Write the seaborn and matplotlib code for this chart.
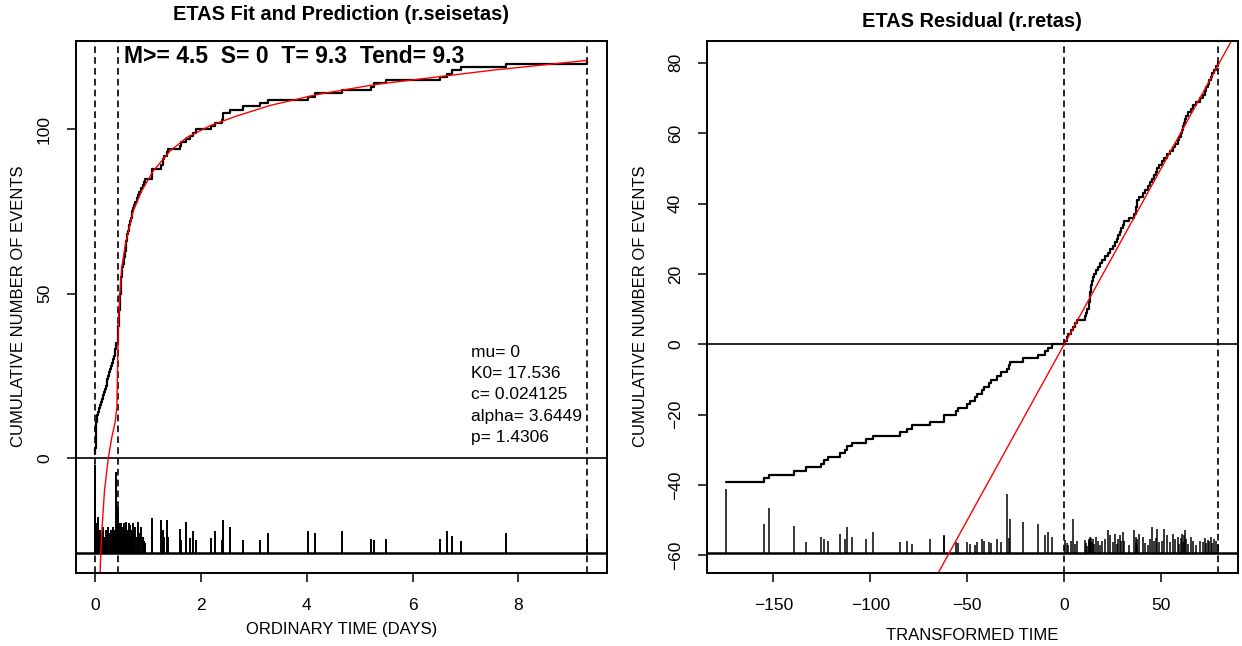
import numpy as np
import matplotlib
matplotlib.use("Agg")
import matplotlib.pyplot as plt
import seaborn as sns

# ---------------- left panel: ordinary time (days) ----------------
event_days = [
    0.000, 0.002, 0.004, 0.006, 0.008, 0.010, 0.012, 0.015, 0.018, 0.021, 0.024, 0.027, 0.030,
    0.05, 0.07, 0.09, 0.11, 0.13, 0.145, 0.16, 0.18, 0.20, 0.215, 0.23, 0.25, 0.27, 0.285,
    0.30, 0.32, 0.34, 0.355, 0.37, 0.38, 0.388,
    0.395, 0.425, 0.43, 0.433, 0.436, 0.439, 0.442, 0.445, 0.448, 0.452, 0.456, 0.46,
    0.464, 0.468, 0.472, 0.476, 0.48, 0.484, 0.488, 0.492, 0.496, 0.50, 0.505, 0.51,
    0.525, 0.535, 0.545, 0.555, 0.565, 0.575, 0.58, 0.59, 0.595, 0.60,
    0.615, 0.63, 0.645, 0.66, 0.675, 0.69, 0.70, 0.71,
    0.735, 0.76, 0.785, 0.81, 0.835, 0.86,
    0.90, 0.93, 0.95,
    1.07, 1.075, 1.08, 1.24, 1.285, 1.29, 1.295, 1.365, 1.375, 1.61, 1.63, 1.71,
    1.80, 1.84, 1.90, 2.19, 2.27, 2.39, 2.41, 2.415, 2.55, 2.79, 3.11, 3.27,
    4.02, 4.16, 4.66, 5.22, 5.27, 5.50, 6.52, 6.65, 6.74, 6.91, 7.77, 9.29,
]
spike_top_days = [
    -2.3, -10, -18, -22, -24, -20, -25, -23, -26, -24, -22, -25, -23,
    -18, -24, -22, -25, -23, -21, -25, -24, -22, -25, -23, -21, -25, -23,
    -22, -25, -21, -24, -22, -25, -23,
    -4.3, -15, -21, -24, -22, -20, -25, -23, -21, -24, -22, -25,
    -20, -23, -24, -21, -25, -22, -23, -20, -24, -22, -25, -21,
    -23, -20, -24, -22, -25, -19.5, -23, -21, -24, -22,
    -25, -20, -23, -20.5, -24, -22, -25, -20,
    -23, -21, -24, -19.5, -23, -21,
    -24, -25.4, -26,
    -18.3, -23, -25, -19, -25, -22, -24, -19, -24, -21.7, -25, -19.5,
    -24.5, -22.3, -25, -24.5, -22.3, -25, -19, -23, -21, -25, -25, -23,
    -22.3, -23, -22.3, -24.6, -25, -24.6, -24.6, -22.3, -23.9, -25.3, -23, -24.6,
]
model_days = [0.085, 0.10, 0.127, 0.176, 0.25, 0.315, 0.378, 0.41, 0.42, 0.43, 0.44,
              0.47, 0.50, 0.57, 0.60, 0.72, 0.88, 1.10, 1.42, 1.73, 2.17, 2.68,
              3.31, 4.19, 5.31, 6.43, 7.55, 9.30]
model_count = [-40, -31, -22, -10, 0.2, 6.3, 10.9, 15.4, 25.6, 33.7, 40.8,
               50.9, 57.5, 65, 67.1, 75.2, 81.3, 87.4, 93.5, 97.5, 101.1, 104.1,
               107.3, 110.6, 113.7, 115.9, 118.1, 121]
LEFT_BASE = -29.0
LEFT_VLINES = [0.0, 0.43, 9.3]
LEFT_XTICKS = [0, 2, 4, 6, 8]
LEFT_YTICKS = [0, 50, 100]
HEADER = "M>= 4.5  S= 0  T= 9.3  Tend= 9.3"
PARAM_LINES = ["mu= 0", "K0= 17.536", "c= 0.024125", "alpha= 3.6449", "p= 1.4306"]

# ---------------- right panel: transformed time ----------------
resid_tau = [
    -174.2, -154.6, -152.1, -139.3, -133.2, -125.3, -123.7, -121.8, -115.8, -113.2,
    -111.9, -109.4, -102.2, -98.8, -84.5, -80.8, -78.4, -69.1, -62.2, -61.8,
    -55.7, -54.8, -50.2, -48.5, -45.8, -45.0, -42.4, -41.2, -39.0, -37.6,
    -34.4, -32.6, -29.6, -28.2, -27.8, -21.3, -13.6, -9.8, -8.4, -6.4,
    0.5, 1.2, 2.2, 3.5, 4.8, 5.8, 6.5, 10.6, 11.3, 12.0,
    12.6, 12.9, 13.1, 13.3, 13.5, 13.7, 13.9, 14.2, 15.0, 15.6,
    16.2, 17.5, 18.5, 19.6, 21.0, 22.5, 23.6, 25.4, 26.3, 27.1,
    27.8, 28.6, 29.5, 30.3, 31.1, 33.5, 35.8, 36.9, 37.1, 37.3,
    37.5, 38.5, 40.6, 41.8, 43.1, 44.5, 45.5, 46.2, 47.1, 48.0,
    48.9, 50.3, 51.7, 53.1, 54.8, 56.2, 57.4, 58.6, 59.4, 60.1,
    60.7, 61.3, 61.9, 62.4, 62.9, 64.1, 65.3, 66.5, 68.2, 69.9,
    71.6, 72.5, 73.3, 74.1, 74.9, 75.6, 76.3, 77.2, 78.1, 79.2,
]
spike_top_tau = [
    -41.2, -51.1, -46.4, -51.5, -56.2, -54.8, -55.3, -55.8, -53.9, -55.3,
    -52.0, -54.8, -55.3, -53.4, -56.3, -55.8, -56.8, -55.3, -54.3, -54.5,
    -56.3, -56.6, -56.3, -56.8, -57.0, -56.3, -55.3, -55.8, -56.3, -56.6,
    -55.3, -56.3, -42.6, -55.0, -49.7, -50.6, -51.1, -54.3, -53.4, -54.8,
    -55.5, -56.5, -57.0, -56.0, -49.7, -56.8, -55.8, -55.5, -56.6, -57.2,
    -55.3, -56.0, -54.8, -56.8, -55.6, -57.0, -55.0, -56.2, -55.3, -56.8,
    -54.8, -55.8, -57.0, -56.0, -55.3, -52.9, -54.3, -56.3, -53.8, -56.8,
    -55.3, -54.3, -56.0, -53.4, -55.8, -57.0, -52.9, -54.8, -56.3, -55.3,
    -57.0, -53.9, -54.8, -56.6, -57.0, -55.3, -51.8, -56.0, -55.0, -52.4,
    -56.3, -55.8, -52.4, -54.3, -56.3, -53.9, -55.3, -54.8, -56.8, -55.0,
    -53.9, -56.3, -54.3, -52.9, -55.3, -56.8, -54.8, -56.0, -57.0, -55.8,
    -56.3, -55.0, -56.6, -55.5, -56.0, -54.8, -56.6, -55.3, -55.8, -56.8,
]
RESID_OFFSET = 40
RESID_INTERCEPT = 0.0
RESID_SLOPE = 1.0
RIGHT_BASE = -59.3
RIGHT_VLINES = [0.0, 79.5]
RIGHT_XTICKS = [-150, -100, -50, 0, 50]
RIGHT_YTICKS = [-60, -40, -20, 0, 20, 40, 60, 80]

sns.set_style("ticks")
plt.rcParams['font.family'] = ['Liberation Sans', 'DejaVu Sans']
plt.rcParams['axes.linewidth'] = 1.4
plt.rcParams['text.color'] = 'black'
plt.rcParams['axes.labelcolor'] = 'black'
plt.rcParams['xtick.color'] = 'black'
plt.rcParams['ytick.color'] = 'black'

DASH = (0, (4, 2.5))


def r_lim(lo, hi):
    # R base graphics pads the data range by 4% on each side
    pad = 0.04 * (hi - lo)
    return lo - pad, hi + pad


def style_axis(ax, xticks, yticks):
    ax.set_xticks(xticks)
    ax.set_yticks(yticks)
    ax.tick_params(axis='both', direction='out', length=6.5, width=1.1,
                   labelsize=12.5, colors='black')
    ax.tick_params(axis='x', pad=11.5)
    ax.tick_params(axis='y', pad=10.5)
    plt.setp(ax.get_yticklabels(), rotation=90, va='center')
    for sp in ax.spines.values():
        sp.set_color('black')
        sp.set_linewidth(1.4)


fig = plt.figure(figsize=(12.42, 6.46), dpi=100)
ax1 = fig.add_axes([0.0608, 0.1135, 0.4279, 0.8235])
ax2 = fig.add_axes([0.569, 0.1135, 0.4278, 0.8235])

# ---- left ----
counts = np.arange(1, len(event_days) + 1)
ax1.vlines(event_days, LEFT_BASE, spike_top_days, color='black', lw=1.4)
ax1.axhline(0, color='black', lw=1.2)
ax1.axhline(LEFT_BASE, color='black', lw=1.8)
for v in LEFT_VLINES:
    ax1.axvline(v, color='black', lw=1.2, linestyle=DASH)
sns.lineplot(x=event_days, y=counts, drawstyle='steps-post', estimator=None,
             sort=False, color='black', lw=1.6, ax=ax1)
sns.lineplot(x=model_days, y=model_count, estimator=None, sort=False,
             color='red', lw=1.0, ax=ax1)
ax1.set_xlim(*r_lim(min(LEFT_VLINES), max(LEFT_VLINES)))
ax1.set_ylim(*r_lim(LEFT_BASE, counts.max()))
style_axis(ax1, LEFT_XTICKS, LEFT_YTICKS)
ax1.set_title('ETAS Fit and Prediction (r.seisetas)', fontsize=14.4,
              fontweight='bold', pad=15)
ax1.set_xlabel('ORDINARY TIME (DAYS)', fontsize=12)
ax1.set_ylabel('CUMULATIVE NUMBER OF EVENTS', fontsize=12)
ax1.xaxis.set_label_coords(0.5, -0.092)
ax1.yaxis.set_label_coords(-0.094, 0.5)
ax1.text(0.0903, 0.9586, HEADER, transform=ax1.transAxes, fontsize=16.5,
         fontweight='bold', va='baseline', ha='left')
for i, line in enumerate(PARAM_LINES):
    ax1.text(0.744, 0.413 - i * 0.0395, line, transform=ax1.transAxes,
             fontsize=12.5, va='center', ha='left')

# ---- right ----
resid_count = np.arange(1, len(resid_tau) + 1) - RESID_OFFSET
ax2.vlines(resid_tau, RIGHT_BASE, spike_top_tau, color='black', lw=1.1)
ax2.axhline(0, color='black', lw=1.2)
ax2.axhline(RIGHT_BASE, color='black', lw=1.8)
for v in RIGHT_VLINES:
    ax2.axvline(v, color='black', lw=1.2, linestyle=DASH)
sns.lineplot(x=resid_tau, y=resid_count, drawstyle='steps-post', estimator=None,
             sort=False, color='black', lw=1.6, ax=ax2)
ax2.axline((0, RESID_INTERCEPT), slope=RESID_SLOPE, color='red', lw=1.0)
ax2.set_xlim(*r_lim(min(resid_tau), max(RIGHT_VLINES)))
ax2.set_ylim(*r_lim(RIGHT_BASE, resid_count.max() + 0.7))
style_axis(ax2, RIGHT_XTICKS, RIGHT_YTICKS)
ax2.set_title('ETAS Residual (r.retas)', fontsize=14.4, fontweight='bold', pad=10)
ax2.set_xlabel('TRANSFORMED TIME', fontsize=12)
ax2.set_ylabel('CUMULATIVE NUMBER OF EVENTS', fontsize=12)
ax2.xaxis.set_label_coords(0.5, -0.104)
ax2.yaxis.set_label_coords(-0.11, 0.5)

fig.savefig('out.png', dpi=100, facecolor='white')
